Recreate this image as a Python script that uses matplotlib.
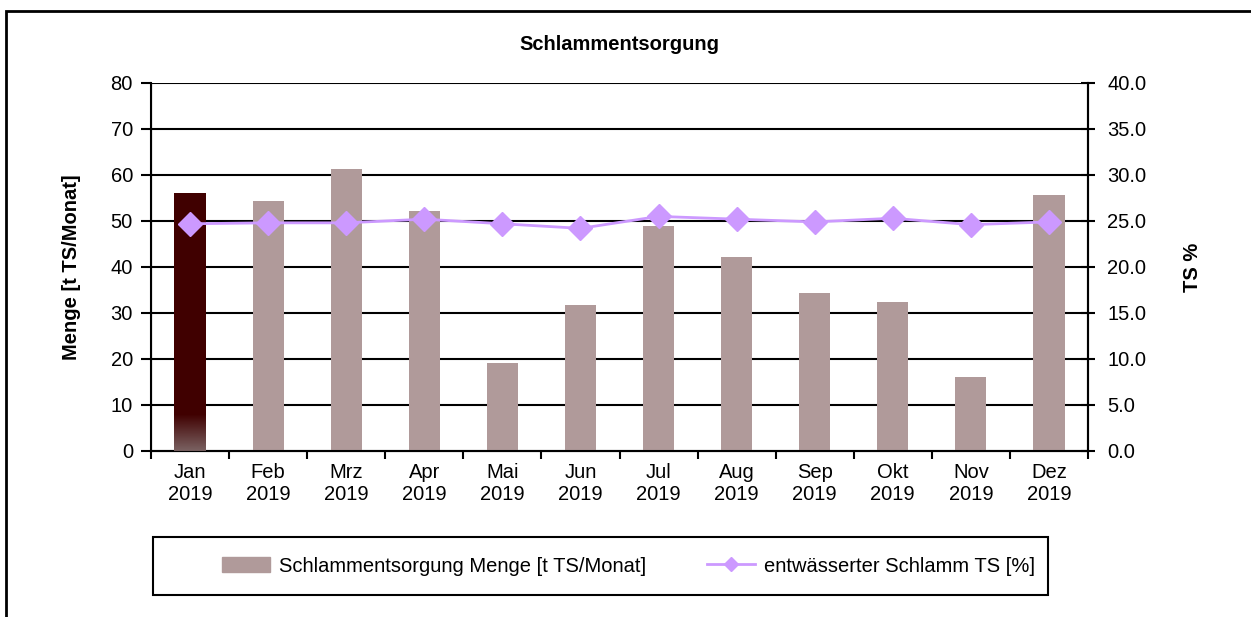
import matplotlib
matplotlib.use("Agg")
import matplotlib.pyplot as plt
import numpy as np
from matplotlib.patches import Rectangle
from matplotlib.lines import Line2D
from matplotlib.colors import LinearSegmentedColormap

plt.rcParams['font.family'] = ['Liberation Sans', 'DejaVu Sans']

months = ["Jan\n2019", "Feb\n2019", "Mrz\n2019", "Apr\n2019", "Mai\n2019", "Jun\n2019",
          "Jul\n2019", "Aug\n2019", "Sep\n2019", "Okt\n2019", "Nov\n2019", "Dez\n2019"]
menge = [56.0, 54.3, 61.2, 52.1, 19.2, 31.7, 49.0, 42.1, 34.3, 32.5, 16.1, 55.6]
ts = [24.7, 24.8, 24.8, 25.2, 24.7, 24.2, 25.5, 25.2, 24.9, 25.3, 24.6, 24.9]
left_ticks = [0, 10, 20, 30, 40, 50, 60, 70, 80]
right_ticks = [0, 5, 10, 15, 20, 25, 30, 35, 40]

bar_color = "#B09A9A"
jan_color = "#400000"
line_color = "#CC99FF"

FS = 14.5
W, H = 1251, 617
fig = plt.figure(figsize=(W / 100, H / 100), dpi=100)

ax = fig.add_axes([151 / W, 1 - 451 / H, (1088 - 151) / W, (451 - 83) / H])
x = np.arange(len(months))
bars = ax.bar(x, menge, width=0.4, color=bar_color, zorder=2)
bars[0].set_facecolor(jan_color)

# gradient at the bottom of the first bar
b0 = bars[0]
bx0 = b0.get_x()
bx1 = bx0 + b0.get_width()
cmap = LinearSegmentedColormap.from_list("g", ["#7A6262", jan_color])
grad = np.linspace(0, 1, 100).reshape(-1, 1)
ax.imshow(grad, extent=(bx0, bx1, 0, 8), origin="lower", cmap=cmap,
          aspect="auto", zorder=3)

ax.set_xlim(-0.5, len(months) - 0.5)
ax.set_ylim(0, 80)
ax.set_yticks(left_ticks)
ax.set_yticklabels([str(t) for t in left_ticks], fontsize=FS)
ax.set_xticks(x)
ax.set_xticklabels(months, fontsize=FS, linespacing=1.15)
ax.tick_params(axis='x', length=0, pad=9)
ax.set_xticks(np.arange(-0.5, len(months), 1), minor=True)
ax.tick_params(axis='x', which='minor', length=6, width=1.5, direction='out')
ax.tick_params(axis='y', length=7, width=1.5, direction='out', pad=6)
for t in left_ticks:
    ax.axhline(t, color="black", lw=1.5, zorder=1)
ax.spines["top"].set_visible(False)
for s in ["left", "bottom", "right"]:
    ax.spines[s].set_linewidth(1.5)
ax.set_ylabel("Menge [t TS/Monat]", fontsize=FS, fontweight="bold", labelpad=21)

ax2 = ax.twinx()
ax2.plot(x, ts, color=line_color, lw=2, marker="D", markersize=12,
         markeredgecolor=line_color, markerfacecolor=line_color, zorder=5)
ax2.set_ylim(0, 40)
ax2.set_yticks(right_ticks)
ax2.set_yticklabels([f"{t:.1f}" for t in right_ticks], fontsize=FS)
ax2.tick_params(axis='y', length=10, width=1.5, direction='inout', pad=9)
ax2.spines["top"].set_visible(False)
ax2.spines["right"].set_linewidth(1.5)
ax2.set_ylabel("TS %", fontsize=FS, fontweight="bold", labelpad=26)
ax.set_zorder(1)
ax2.set_zorder(2)
ax2.patch.set_visible(False)

fig.text(619 / W, 1 - 44 / H, "Schlammentsorgung", ha="center", va="center",
         fontsize=FS, fontweight="bold")

# outer frame
fig.add_artist(Rectangle((6 / W, -0.1), 1.2, 1 - 11 / H + 0.1, transform=fig.transFigure,
                         fill=False, edgecolor="black", lw=2))

# legend frame
lx0, lx1, ly0, ly1 = 153, 1048, 537, 595
fig.add_artist(Rectangle((lx0 / W, 1 - ly1 / H), (lx1 - lx0) / W, (ly1 - ly0) / H,
                         transform=fig.transFigure, fill=False, edgecolor="black", lw=1.5))

handles = [Rectangle((0, 0), 1, 1, color=bar_color),
           Line2D([0], [0], color=line_color, lw=2, marker="D", markersize=7)]
labels = ["Schlammentsorgung Menge [t TS/Monat]", "entwässerter Schlamm TS [%]"]
leg = fig.legend(handles, labels, ncol=2, loc="center",
                 bbox_to_anchor=((lx0 + lx1) / 2 / W + 28 / W, 1 - (ly0 + ly1) / 2 / H),
                 fontsize=FS, frameon=False,
                 handlelength=2.4, handletextpad=0.45, columnspacing=3.0)

fig.savefig("out.png", dpi=100)
